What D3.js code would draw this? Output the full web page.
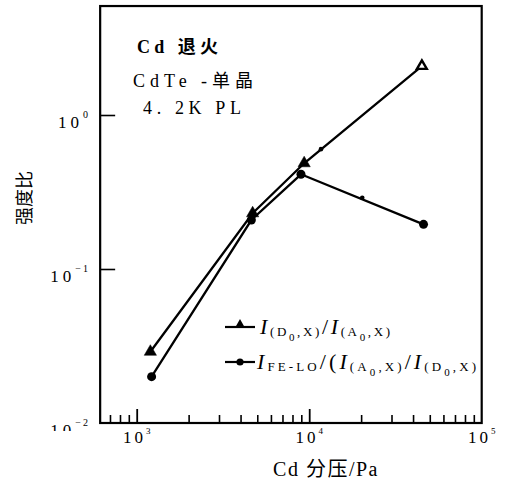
<!DOCTYPE html>
<html><head><meta charset="utf-8">
<script src="https://cdn.jsdelivr.net/npm/d3@7"></script>
<style>body{margin:0;background:#fff}svg{display:block}</style>
</head><body>
<svg id="c" width="508" height="488"></svg>
<script>
// ---- data ----
const triX = [1200, 4700, 9350, 45000];
const triY = [0.029, 0.23, 0.486, 2.08];
const triMinorX = [11700];
const triMinorY = [0.60];
const cirX = [1220, 4620, 8960, 46000];
const cirY = [0.020, 0.208, 0.412, 0.195];
const cirMinorX = [20300];
const cirMinorY = [0.29];
const xMajorTicks = [1e3, 1e4, 1e5];
const xMajorExp = ["3", "4", "5"];
const xMinorTicks = [700, 800, 900, 2000, 3000, 4000, 5000, 6000, 7000, 8000, 9000,
                     20000, 30000, 40000, 50000, 60000, 70000, 80000, 90000];
const yMajorTicks = [1, 0.1, 0.01];
const yMajorExp = ["0", "\u22121", "\u22122"];
const annotations = ["Cd 退火", "CdTe -单晶", "4. 2K  PL"];
const xTitle = "Cd 分压/Pa";
const yTitle = "强度比";

// ---- layout ----
const svg = d3.select("#c");
const x = d3.scaleLog().domain([1e3, 1e5]).range([136.7, 481.7]);
const y = d3.scaleLog().domain([1e-2, 1e0]).range([423, 115]);
const xMin = 614, yMax = 5.1;
const L = x(xMin), R = x(1e5), T = y(yMax), B = y(1e-2);
const serif = "'Liberation Serif','Noto Sans CJK SC',serif";

// ticks via d3 axes
const gx = svg.append("g").attr("transform", `translate(0,${B})`)
  .call(d3.axisBottom(x).tickValues(xMinorTicks).tickSize(-8).tickFormat(""));
gx.select(".domain").remove();
gx.selectAll("line").attr("stroke", "#000").attr("stroke-width", 1.6);
const gx2 = svg.append("g").attr("transform", `translate(0,${B})`)
  .call(d3.axisBottom(x).tickValues(xMajorTicks.slice(0, 2)).tickSize(-14).tickFormat(""));
gx2.select(".domain").remove();
gx2.selectAll("line").attr("stroke", "#000").attr("stroke-width", 1.8);
const gy = svg.append("g").attr("transform", `translate(${L},0)`)
  .call(d3.axisRight(y).tickValues(yMajorTicks.slice(0, 2)).tickSize(15).tickFormat(""));
gy.select(".domain").remove();
gy.selectAll("line").attr("stroke", "#000").attr("stroke-width", 1.6);

// frame
svg.append("rect").attr("x", L).attr("y", T).attr("width", R - L).attr("height", B - T)
  .attr("fill", "none").attr("stroke", "#000").attr("stroke-width", 2.2);

// x tick labels
xMajorTicks.forEach((v, i) => {
  const t = svg.append("text").attr("x", x(v)).attr("y", 443)
    .attr("text-anchor", "middle").attr("font-family", serif).attr("font-size", 17);
  t.append("tspan").text("10").attr("letter-spacing", 3);
  t.append("tspan").text(xMajorExp[i]).attr("font-size", 9).attr("dy", -9);
});

// y tick labels
svg.append("clipPath").attr("id", "cut").append("rect")
  .attr("x", 0).attr("y", 0).attr("width", 100).attr("height", 431);
yMajorTicks.forEach((v, i) => {
  const t = svg.append("text").attr("x", 90).attr("y", y(v) + 13)
    .attr("text-anchor", "end").attr("font-family", serif).attr("font-size", 17)
    .attr("clip-path", "url(#cut)");
  t.append("tspan").text("10").attr("letter-spacing", 4);
  t.append("tspan").text(yMajorExp[i]).attr("font-size", 10).attr("dy", -10).attr("letter-spacing", 2);
});

// axis titles
svg.append("text").attr("x", 326).attr("y", 476).attr("text-anchor", "middle")
  .attr("font-family", serif).attr("font-size", 20).attr("letter-spacing", 1.5).text(xTitle);
svg.append("text").attr("transform", "translate(31,198) rotate(-90)").attr("text-anchor", "middle")
  .attr("font-family", serif).attr("font-size", 18).text(yTitle);

// annotations
const annX = [137, 133, 143], annY = [53, 87, 114], annW = [81, 120, 98];
annotations.forEach((s, i) => {
  svg.append("text").attr("x", annX[i]).attr("y", annY[i]).attr("font-family", serif)
    .attr("font-size", 18).attr("font-weight", i === 0 ? "bold" : "normal")
    .attr("textLength", annW[i]).attr("lengthAdjust", "spacing")
    .text(s);
});

// lines
const line = d3.line().x(d => x(d[0])).y(d => y(d[1]));
const tri = triX.map((v, i) => [v, triY[i]]);
const cir = cirX.map((v, i) => [v, cirY[i]]);
svg.append("path").attr("d", line(tri)).attr("fill", "none").attr("stroke", "#000").attr("stroke-width", 2.3);
svg.append("path").attr("d", line(cir)).attr("fill", "none").attr("stroke", "#000").attr("stroke-width", 2.3);

svg.selectAll(".tri").data(tri).enter().append("path")
  .attr("transform", d => `translate(${x(d[0])},${y(d[1])})`)
  .attr("d", (d, i) => d3.symbol(d3.symbolTriangle, i === tri.length - 1 ? 42 : 65)())
  .attr("fill", (d, i) => i === tri.length - 1 ? "#fff" : "#000")
  .attr("stroke", "#000").attr("stroke-width", (d, i) => i === tri.length - 1 ? 2.4 : 0.5);
svg.selectAll(".cir").data(cir).enter().append("circle")
  .attr("cx", d => x(d[0])).attr("cy", d => y(d[1])).attr("r", 4.5).attr("fill", "#000");
triMinorX.forEach((v, i) => svg.append("circle").attr("cx", x(v)).attr("cy", y(triMinorY[i])).attr("r", 2.3).attr("fill", "#000"));
cirMinorX.forEach((v, i) => svg.append("circle").attr("cx", x(v)).attr("cy", y(cirMinorY[i])).attr("r", 2.3).attr("fill", "#000"));

// legend
const lg = svg.append("g");
lg.append("line").attr("x1", 225).attr("x2", 255).attr("y1", 327).attr("y2", 327).attr("stroke", "#000").attr("stroke-width", 2.2);
lg.append("path").attr("transform", "translate(240,325)").attr("d", d3.symbol(d3.symbolTriangle, 45)).attr("fill", "#000");
lg.append("line").attr("x1", 225).attr("x2", 255).attr("y1", 362).attr("y2", 362).attr("stroke", "#000").attr("stroke-width", 2.2);
lg.append("circle").attr("cx", 240).attr("cy", 362).attr("r", 3.6).attr("fill", "#000");

function legendText(xp, yp, width, parts) {
  const t = lg.append("text").attr("x", xp).attr("y", yp).attr("font-family", serif)
    .attr("textLength", width).attr("lengthAdjust", "spacing");
  let base = 0;
  parts.forEach(p => {
    const sp = t.append("tspan").text(p[0]);
    const off = p[1] === "I" || p[1] === "m" ? 0 : p[1] === "s" ? 2 : 7;
    sp.attr("dy", off - base); base = off;
    if (p[1] === "I") sp.attr("font-style", "italic").attr("font-size", 22);
    else if (p[1] === "m") sp.attr("font-size", 22);
    else if (p[1] === "s") sp.attr("font-size", 13);
    else sp.attr("font-size", 11);
  });
}
legendText(260, 334, 130, [["I", "I"], ["(D", "s"], ["0", "z"], [",X)", "s"], ["/", "m"], ["I", "I"], ["(A", "s"], ["0", "z"], [",X)", "s"]]);
legendText(257, 369, 219, [["I", "I"], ["FE-LO", "s"], ["/", "m"], ["(", "m"], ["I", "I"], ["(A", "s"], ["0", "z"], [",X)", "s"], ["/", "m"], ["I", "I"], ["(D", "s"], ["0", "z"], [",X)", "s"]]);
</script>
</body></html>
